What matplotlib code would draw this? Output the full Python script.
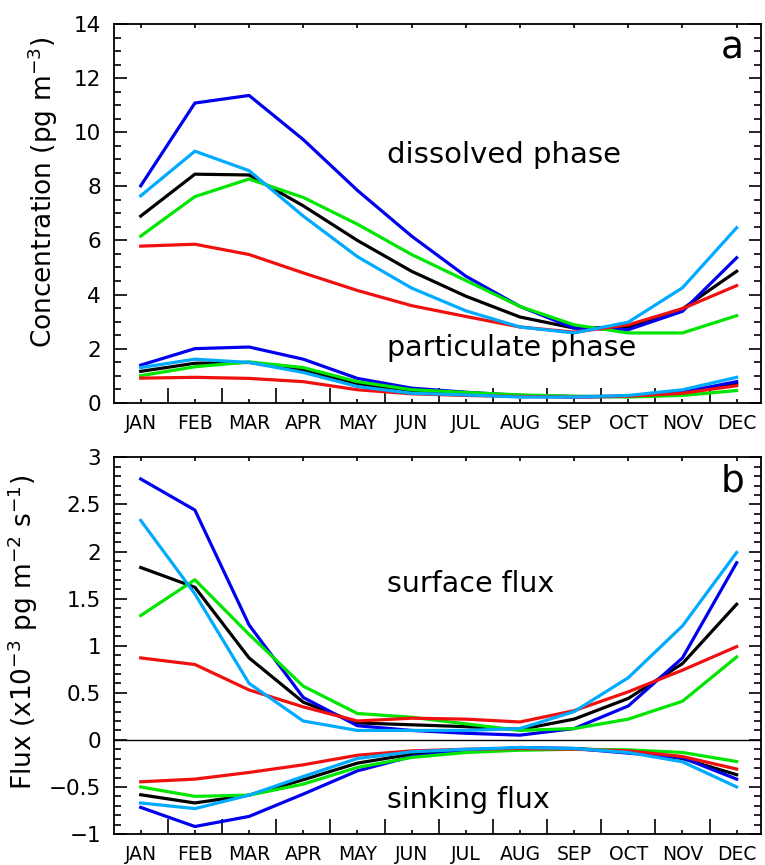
import matplotlib
matplotlib.use("Agg")
import matplotlib.pyplot as plt
import numpy as np

plt.rcParams['font.family'] = ['DejaVu Sans']
plt.rcParams['mathtext.default'] = 'regular'

months = ['JAN', 'FEB', 'MAR', 'APR', 'MAY', 'JUN', 'JUL', 'AUG', 'SEP', 'OCT', 'NOV', 'DEC']

# Panel a: dissolved phase concentration (pg m-3)
blue_d = [8.02, 11.08, 11.36, 9.73, 7.85, 6.16, 4.68, 3.56, 2.76, 2.70, 3.38, 5.36]
lblue_d = [7.65, 9.30, 8.58, 6.90, 5.40, 4.24, 3.40, 2.80, 2.58, 2.98, 4.25, 6.47]
black_d = [6.90, 8.45, 8.42, 7.28, 6.00, 4.86, 3.94, 3.17, 2.76, 2.80, 3.47, 4.86]
green_d = [6.16, 7.62, 8.27, 7.59, 6.60, 5.48, 4.52, 3.56, 2.88, 2.58, 2.58, 3.22]
red_d = [5.79, 5.86, 5.48, 4.80, 4.15, 3.59, 3.19, 2.80, 2.61, 2.88, 3.48, 4.33]

# Panel a: particulate phase concentration (pg m-3)
blue_p = [1.39, 2.00, 2.06, 1.61, 0.90, 0.54, 0.39, 0.27, 0.21, 0.24, 0.39, 0.78]
lblue_p = [1.30, 1.61, 1.49, 1.12, 0.60, 0.35, 0.29, 0.21, 0.21, 0.27, 0.48, 0.94]
black_p = [1.16, 1.46, 1.49, 1.21, 0.70, 0.45, 0.35, 0.27, 0.23, 0.24, 0.37, 0.70]
green_p = [1.00, 1.33, 1.51, 1.30, 0.78, 0.48, 0.38, 0.29, 0.24, 0.21, 0.27, 0.45]
red_p = [0.91, 0.94, 0.90, 0.78, 0.48, 0.33, 0.27, 0.23, 0.21, 0.24, 0.35, 0.63]

# Panel b: surface flux (x1e-3 pg m-2 s-1)
blue_s = [2.77, 2.44, 1.22, 0.45, 0.15, 0.10, 0.07, 0.05, 0.12, 0.36, 0.87, 1.88]
lblue_s = [2.33, 1.55, 0.60, 0.20, 0.10, 0.10, 0.10, 0.12, 0.30, 0.66, 1.21, 1.99]
black_s = [1.83, 1.62, 0.87, 0.40, 0.18, 0.16, 0.14, 0.11, 0.22, 0.44, 0.81, 1.44]
green_s = [1.32, 1.70, 1.12, 0.57, 0.28, 0.24, 0.17, 0.10, 0.12, 0.22, 0.41, 0.88]
red_s = [0.87, 0.80, 0.53, 0.35, 0.20, 0.23, 0.22, 0.19, 0.31, 0.51, 0.74, 0.99]

# Panel b: sinking flux
blue_k = [-0.717, -0.92, -0.813, -0.576, -0.329, -0.177, -0.117, -0.081, -0.092, -0.141, -0.190, -0.417]
lblue_k = [-0.67, -0.73, -0.587, -0.389, -0.198, -0.127, -0.10, -0.081, -0.092, -0.134, -0.233, -0.50]
black_k = [-0.583, -0.67, -0.587, -0.424, -0.247, -0.152, -0.11, -0.092, -0.092, -0.124, -0.198, -0.37]
green_k = [-0.50, -0.60, -0.587, -0.47, -0.293, -0.187, -0.134, -0.11, -0.10, -0.106, -0.134, -0.23]
red_k = [-0.445, -0.417, -0.346, -0.265, -0.163, -0.117, -0.10, -0.092, -0.10, -0.117, -0.177, -0.31]

C_BLACK = '#000000'
C_BLUE = '#0000EE'
C_GREEN = '#00E600'
C_RED = '#F01010'
C_LBLUE = '#00AAFF'

x = np.arange(1, 13)

fig = plt.figure(figsize=(7.65, 8.65), dpi=100)
ax1 = fig.add_axes([0.1484, 0.5344, 0.8464, 0.4378])
ax2 = fig.add_axes([0.1484, 0.0358, 0.8464, 0.4355])

LW = 2.3


def style(ax):
    ax.set_xlim(0.498, 12.45)
    ax.set_xticks(np.arange(1.5, 12.0, 1.0))
    ax.set_xticklabels([])
    ax.set_xticks(x, months, minor=True)
    ax.tick_params(axis='x', which='major', direction='in', length=11, width=1.2,
                   top=False, bottom=True)
    ax.tick_params(axis='x', which='minor', direction='in', length=3, width=1.2,
                   top=True, bottom=True, labelsize=13.5, pad=8)
    ax.tick_params(axis='y', which='major', direction='in', length=9, width=1.2,
                   left=True, right=True, labelsize=15.5, pad=9)
    ax.tick_params(axis='y', which='minor', direction='in', length=5, width=1.2,
                   left=True, right=True)
    for s in ax.spines.values():
        s.set_linewidth(1.3)


# Panel a
for d, p, c in [(black_d, black_p, C_BLACK), (blue_d, blue_p, C_BLUE),
                (green_d, green_p, C_GREEN), (red_d, red_p, C_RED),
                (lblue_d, lblue_p, C_LBLUE)]:
    ax1.plot(x, d, color=c, lw=LW)
    ax1.plot(x, p, color=c, lw=LW)
style(ax1)
ax1.set_ylim(0, 14)
ax1.set_yticks(np.arange(0, 15, 2))
ax1.set_yticks(np.arange(0, 14.01, 0.5), minor=True)
ax1.set_ylabel('Concentration (pg m$^{-3}$)', fontsize=19)
ax1.yaxis.set_label_coords(-0.082, 0.556)
ax1.text(5.54, 9.16, 'dissolved phase', fontsize=21, va='center', ha='left')
ax1.text(5.54, 2.02, 'particulate phase', fontsize=20.5, va='center', ha='left')
ax1.text(11.92, 12.74, 'a', fontsize=27, va='baseline', ha='center')

# Panel b
ax2.axhline(0, color='k', lw=1.0)
for s, k, c in [(black_s, black_k, C_BLACK), (blue_s, blue_k, C_BLUE),
                (green_s, green_k, C_GREEN), (red_s, red_k, C_RED),
                (lblue_s, lblue_k, C_LBLUE)]:
    ax2.plot(x, s, color=c, lw=LW)
    ax2.plot(x, k, color=c, lw=LW)
style(ax2)
ax2.set_ylim(-1, 3)
ax2.set_yticks(np.arange(-1, 3.01, 0.5))
ax2.set_yticklabels(['\u22121', '\u22120.5', '0', '0.5', '1', '1.5', '2', '2.5', '3'])
ax2.set_yticks(np.arange(-1, 3.001, 0.1), minor=True)
ax2.set_ylabel('Flux (x10$^{-3}$ pg m$^{-2}$ s$^{-1}$)', fontsize=19)
ax2.yaxis.set_label_coords(-0.113, 0.536)
ax2.text(5.54, 1.65, 'surface flux', fontsize=20.5, va='center', ha='left')
ax2.text(5.54, -0.64, 'sinking flux', fontsize=20.5, va='center', ha='left')
ax2.text(11.92, 2.64, 'b', fontsize=27, va='baseline', ha='center')

fig.savefig('out.png', dpi=100)
